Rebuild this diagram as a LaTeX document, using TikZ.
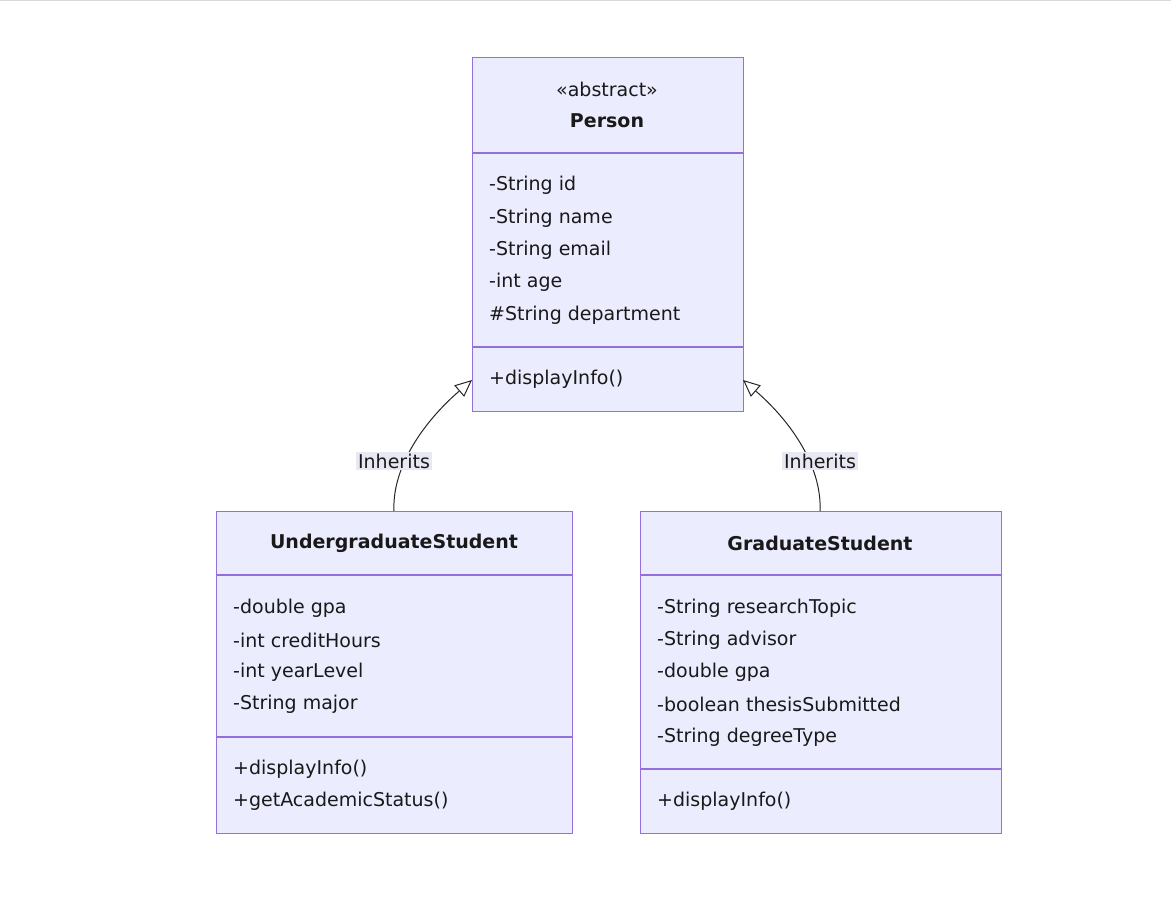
\documentclass[tikz,border=0pt]{standalone}
\usepackage{fontspec}
\setmainfont{DejaVu Sans}
\usetikzlibrary{arrows.meta}
\definecolor{boxfill}{HTML}{ECECFF}
\definecolor{boxline}{HTML}{9370DB}
\definecolor{lblbg}{HTML}{E8E8F2}
\begin{document}
\begin{tikzpicture}[x=1pt,y=-1pt,
  box/.style={draw=boxline,fill=boxfill,line width=1.2pt,inner sep=0,anchor=north west},
  txt/.style={anchor=west,inner sep=0,font=\fontsize{19}{22}\selectfont,text=black!90},
  ctr/.style={anchor=center,inner sep=0,font=\fontsize{19}{22}\selectfont,text=black!90},
  div/.style={draw=boxline,line width=1.2pt},
  inh/.style={draw=black!85,line width=1pt,-{Triangle[open,length=17pt,width=15pt,fill=white]}},
  lbl/.style={fill=lblbg,inner sep=2pt,font=\fontsize{19}{22}\selectfont,text=black!90}]
\useasboundingbox (0,0) rectangle (1171,911);
\fill[white] (0,0) rectangle (1171,911);
\draw[black!15] (0,0.5) -- (1171,0.5);
% Person
\node[box,minimum width=271pt,minimum height=354pt] (person) at (472,57) {};
\draw[div] (472,153) -- (743,153) (472,347) -- (743,347);
\node[ctr] (pst) at (607,89) {«abstract»};
\node[ctr,font=\fontsize{19}{22}\selectfont\bfseries] (pname) at (607,121) {Person};
\node[txt] (p1) at (489,185) {-String id};
\node[txt] (p2) at (489,218) {-String name};
\node[txt] (p3) at (489,250) {-String email};
\node[txt] (p4) at (489,282) {-int age};
\node[txt] (p5) at (489,315) {\#String department};
\node[txt] (p6) at (489,379) {+displayInfo()};
% Undergraduate
\node[box,minimum width=356pt,minimum height=322pt] (ug) at (216,511) {};
\draw[div] (216,575) -- (572,575) (216,737) -- (572,737);
\node[ctr,font=\fontsize{19}{22}\selectfont\bfseries] (ugname) at (394,543) {UndergraduateStudent};
\node[txt] (u1) at (233,608) {-double gpa};
\node[txt] (u2) at (233,640) {-int creditHours};
\node[txt] (u3) at (233,672) {-int yearLevel};
\node[txt] (u4) at (233,704) {-String major};
\node[txt] (u5) at (233,769) {+displayInfo()};
\node[txt] (u6) at (233,801) {+getAcademicStatus()};
% Graduate
\node[box,minimum width=361pt,minimum height=322pt] (gs) at (640,511) {};
\draw[div] (640,575) -- (1001,575) (640,769) -- (1001,769);
\node[ctr,font=\fontsize{19}{22}\selectfont\bfseries] (gsname) at (820,543) {GraduateStudent};
\node[txt] (g1) at (657,608) {-String researchTopic};
\node[txt] (g2) at (657,640) {-String advisor};
\node[txt] (g3) at (657,672) {-double gpa};
\node[txt] (g4) at (657,704) {-boolean thesisSubmitted};
\node[txt] (g5) at (657,737) {-String degreeType};
\node[txt] (g6) at (657,801) {+displayInfo()};
% connectors
\coordinate (ugtop) at (394,511);
\coordinate (gstop) at (820,511);
\coordinate (pl) at (472,380);
\coordinate (pr) at (743,380);
\draw[inh] (ugtop) .. controls (392,470) and (420,425) .. (pl);
\draw[inh] (gstop) .. controls (822,470) and (795,425) .. (pr);
\node[lbl] (l1) at (394,461) {Inherits};
\node[lbl] (l2) at (820,461) {Inherits};
\end{tikzpicture}
\end{document}
